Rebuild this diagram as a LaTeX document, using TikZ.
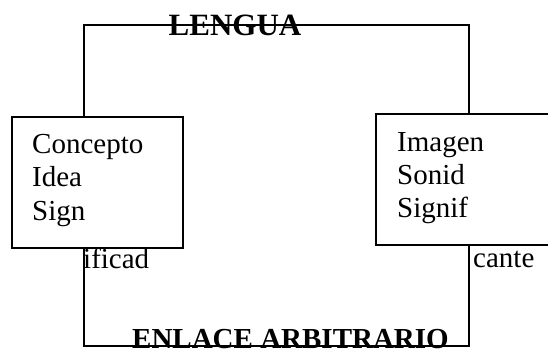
\documentclass[tikz,border=0pt]{standalone}
\usepackage{fontspec}
\setmainfont{Liberation Serif}
\usetikzlibrary{positioning}

\begin{document}
\begin{tikzpicture}[x=1pt,y=1pt,
    link/.style={line width=2.8pt},
    box/.style={draw,fill=white,line width=1.2pt,minimum width=171pt,minimum height=131pt,inner sep=0pt},
    txt/.style={inner sep=0pt,font=\fontsize{29}{33}\selectfont},
    title/.style={inner sep=0pt,font=\fontsize{31}{33}\selectfont\bfseries}]
    \useasboundingbox (0,0) rectangle (548,354);
    \coordinate (lt) at (84,329);
    \coordinate (rt) at (469,329);
    \coordinate (rb) at (469,8);
    \coordinate (lb) at (84,8);
    \draw[link] (lb) -- (lt) -- (rt) -- (rb) -- cycle;
    \node[box] (signif) at (97.5,171.5) {};
    \node[box,minimum width=194pt] (signte) at (473,174.5) {};
    \foreach \t [count=\i] in {Concepto,Idea,Sign}
        \node[txt,anchor=base west] (sdo-\i) at (32,234.5-33.5*\i) {\t};
    \foreach \t [count=\i] in {Imagen,Sonid,Signif}
        \node[txt,anchor=base west] (ste-\i) at (397,236-33*\i) {\t};
    \node[txt,anchor=base west] (sdo-4) at (83,86) {ificad};
    \node[txt,anchor=base west] (ste-4) at (473,87) {cante};
    \node[title,anchor=base] (lengua) at (235,318) {LENGUA};
    \node[title,anchor=base,font=\fontsize{29}{33}\selectfont\bfseries] (enlace) at (290.5,5.5) {ENLACE ARBITRARIO};
\end{tikzpicture}
\end{document}
